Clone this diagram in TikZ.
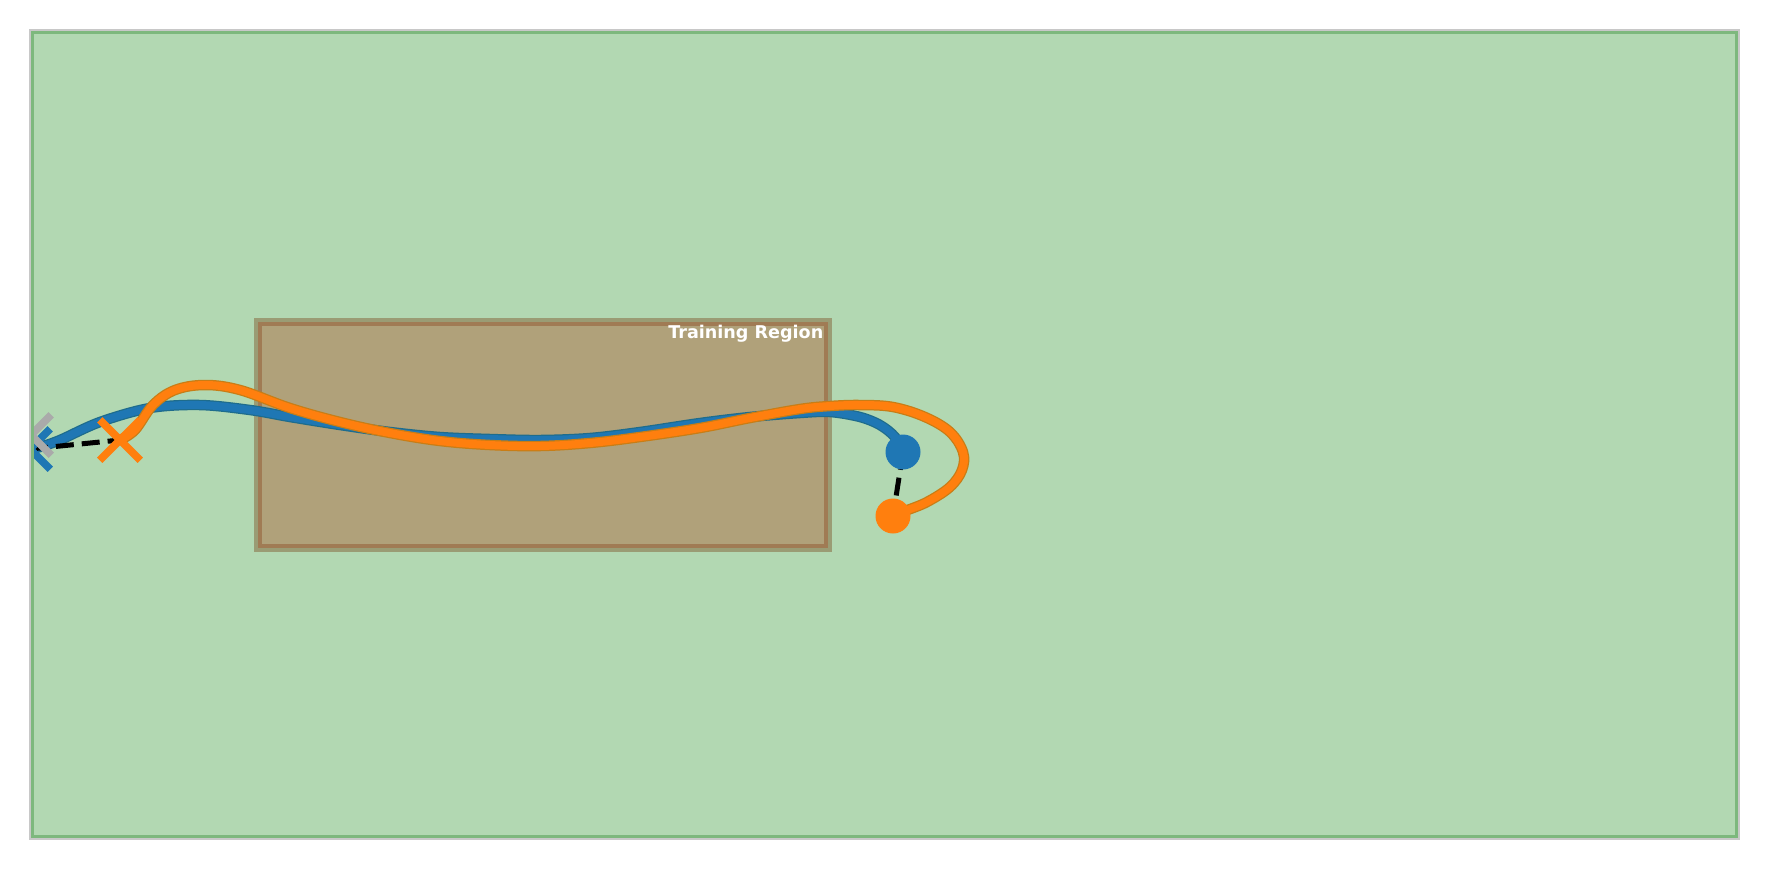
\documentclass[tikz,border=0pt]{standalone}
\usepackage{fontspec}
\setsansfont{DejaVu Sans}
\usepackage{tikz}
\usetikzlibrary{positioning}
\usetikzlibrary{calc}
\usetikzlibrary{shapes.misc}
\definecolor{fieldgreen}{RGB}{178,216,178}
\definecolor{fieldedge}{RGB}{125,184,125}
\definecolor{spinegray}{RGB}{200,200,200}
\definecolor{regfill}{RGB}{176,161,122}
\definecolor{regin}{RGB}{160,123,84}
\definecolor{regout}{RGB}{154,156,116}
\definecolor{tblue}{RGB}{31,119,180}
\definecolor{torange}{RGB}{255,127,14}
\definecolor{eblue}{RGB}{30,108,140}
\definecolor{eorange}{RGB}{200,125,22}
\definecolor{markgray}{RGB}{170,170,170}
\tikzset{dot/.style={circle, inner sep=0pt, minimum size=3.5mm}}
\tikzset{xmark/.style={cross out, draw, inner sep=0pt, minimum size=3.3mm, line width=0.75mm}}
\tikzset{dashline/.style={black, line width=0.5mm, dash pattern=on 1.8mm off 0.8mm}}
\tikzset{bluetraj/.style={draw=eblue, line width=1.05mm, postaction={draw=tblue, line width=0.8mm}}}
\tikzset{orangetraj/.style={draw=eorange, line width=1.05mm, postaction={draw=torange, line width=0.8mm}}}

\begin{document}
\begin{tikzpicture}[x=0.1mm,y=-0.1mm]
\useasboundingbox (0,0) rectangle (1770,870);

\fill[fieldgreen] (31,31) rectangle (1738,838);

\begin{scope}
\clip (32,32) rectangle (1737,837);
% training region
\fill[regfill] (258,322) rectangle (828,548);
\draw[regout, line width=0.4mm] (256,320) rectangle (830,550);
\draw[regin, line width=0.4mm] (260,324) rectangle (826,546);

\coordinate (bs) at (30,449);
\coordinate (os) at (120,440);
\coordinate (gs) at (31,435);
\coordinate (be) at (903,452);
\coordinate (oe) at (893,516);

\draw[bluetraj] plot[smooth, tension=0.55] coordinates {(bs) (40,447) (60,440) (100,422) (150,408) (200,405) (250,410) (290,417) (340,425) (390,432) (440,437) (490,439) (540,440) (590,438) (640,432) (700,423) (750,417) (800,413) (830,412) (860,417) (880,425) (895,437) (be)};
\draw[orangetraj] plot[smooth, tension=0.6] coordinates {(os) (135,430) (153,405) (175,390) (205,385) (240,390) (290,408) (340,422) (390,433) (440,441) (490,445) (540,446) (590,443) (640,437) (700,428) (750,418) (800,409) (830,406) (860,405) (893,407) (925,417) (950,432) (963,452) (962,470) (950,487) (927,502) (905,511) (oe)};

\draw[dashline] (bs) -- (os);
\draw[dashline] (be) -- (oe);

\node[xmark, draw=tblue] (bstart) at (bs) {};
\node[xmark, draw=markgray] (goal) at (gs) {};
\node[xmark, draw=torange] (ostart) at (os) {};
\node[dot, fill=tblue] (bend) at (be) {};
\node[dot, fill=torange] (oend) at (oe) {};
\end{scope}

\draw[fieldedge, line width=0.3mm] (32.5,32.5) rectangle (1736.5,836.5);
\draw[spinegray, line width=0.2mm] (30,30) rectangle (1739,839);

\node[anchor=base east, inner sep=0pt, text=white, font=\sffamily\bfseries\fontsize{5pt}{6pt}\selectfont] (reglabel) at (824,338) {Training Region};
\end{tikzpicture}
\end{document}
